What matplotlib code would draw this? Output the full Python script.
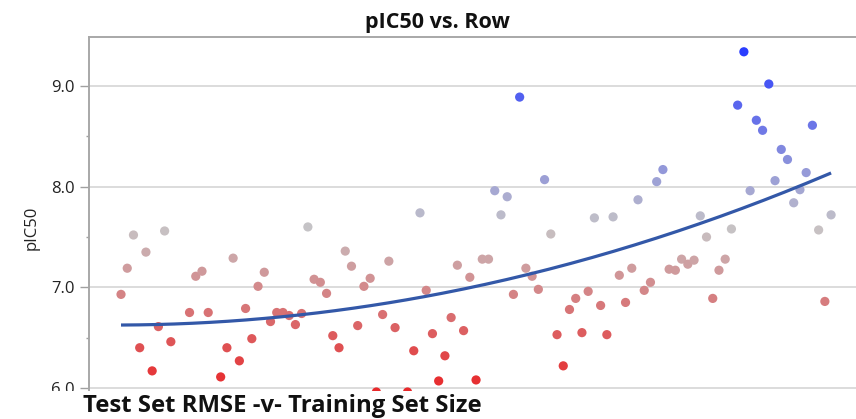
import numpy as np
import matplotlib
matplotlib.use("Agg")
import matplotlib.pyplot as plt
from matplotlib.colors import LinearSegmentedColormap, TwoSlopeNorm
from matplotlib.patches import Rectangle

plt.rcParams['font.family'] = ['Open Sans', 'DejaVu Sans']

# pIC50 per row (rows 1..115)
pic50 = [
    6.93, 7.19, 7.52, 6.40, 7.35, 6.17, 6.61, 7.56, 6.46, 5.75,
    5.75, 6.75, 7.11, 7.16, 6.75, 5.75, 6.11, 6.40, 7.29, 6.27,
    6.79, 6.49, 7.01, 7.15, 6.66, 6.75, 6.75, 6.72, 6.63, 6.74,
    7.60, 7.08, 7.05, 6.94, 6.52, 6.40, 7.36, 7.21, 6.62, 7.01,
    7.09, 5.96, 6.73, 7.26, 6.60, 5.75, 5.96, 6.37, 7.74, 6.97,
    6.54, 6.07, 6.32, 6.70, 7.22, 6.57, 7.10, 6.08, 7.28, 7.28,
    7.96, 7.72, 7.90, 6.93, 8.89, 7.19, 7.11, 6.98, 8.07, 7.53,
    6.53, 6.22, 6.78, 6.89, 6.55, 6.96, 7.69, 6.82, 6.53, 7.70,
    7.12, 6.85, 7.19, 7.87, 6.97, 7.05, 8.05, 8.17, 7.18, 7.17,
    7.28, 7.23, 7.27, 7.71, 7.50, 6.89, 7.17, 7.28, 7.58, 8.81,
    9.34, 7.96, 8.66, 8.56, 9.02, 8.06, 8.37, 8.27, 7.84, 7.97,
    8.14, 8.61, 7.57, 6.86, 7.72,
]
rows = np.arange(1, len(pic50) + 1).astype(float)
values = np.array(pic50)

y_ticks = [6.0, 7.0, 8.0, 9.0]
y_tick_labels = ["6.0", "7.0", "8.0", "9.0"]

W, H = 856, 419
fig = plt.figure(figsize=(W / 100, H / 100), dpi=100)

# plot area: left spine at x=89 px, top border at y=37 px, runs past the bottom edge
ax = fig.add_axes([89 / W, 0.0, (W - 89) / W, (H - 37) / H])
ax.set_xlim(-4.14, 119.0)
ax.set_ylim(5.692, 9.487)

cmap = LinearSegmentedColormap.from_list(
    "pic50", ["#e8292b", "#c6c4c6", "#2a3dff"])
norm = TwoSlopeNorm(vmin=6.0, vcenter=7.6, vmax=9.35)

ax.scatter(rows, values, c=values, cmap=cmap, norm=norm, s=44,
           linewidths=0, zorder=3)

# curve fit: pIC50 ~ a + b * row^2 (least squares)
A = np.column_stack([np.ones_like(rows), rows ** 2])
(a, b), *_ = np.linalg.lstsq(A, values, rcond=None)
xs = np.linspace(rows.min(), rows.max(), 200)
ax.plot(xs, a + b * xs ** 2, color="#3358a8", lw=2.3, zorder=4,
        solid_capstyle="butt")

ax.set_yticks(y_ticks)
ax.set_yticklabels(y_tick_labels)
ax.set_yticks([6.5, 7.5, 8.5], minor=True)
ax.tick_params(axis="y", which="major", length=6.5, width=1.0,
               color="#a0a0a0", labelsize=12, labelcolor="#222222", pad=4)
ax.tick_params(axis="y", which="minor", length=2.5, width=1.0,
               color="#a0a0a0")
ax.set_xticks([])
ax.grid(axis="y", which="major", color="#d9d9d9", lw=1.3, zorder=0)
ax.set_axisbelow(True)

for side in ("right", "bottom"):
    ax.spines[side].set_visible(False)
for side in ("left", "top"):
    ax.spines[side].set_color("#a8a8a8")
    ax.spines[side].set_linewidth(1.4)

ax.set_ylabel("pIC50", fontsize=12, color="#222222", labelpad=8)

fig.text(437.5 / W, 1 - 28 / H, "pIC50 vs. Row", ha="center",
         va="baseline", fontsize=15.5, fontweight="bold", color="#111111")

# panel heading strip along the bottom
fig.patches.append(Rectangle((0, 0), 1, (H - 390.5) / H,
                             transform=fig.transFigure, facecolor="white",
                             edgecolor="none", zorder=10))
fig.text(83 / W, 7 / H, "Test Set RMSE -v- Training Set Size", ha="left",
         va="baseline", fontsize=17.2, fontweight="bold", color="#111111",
         zorder=11)

fig.savefig("out.png", dpi=100)
